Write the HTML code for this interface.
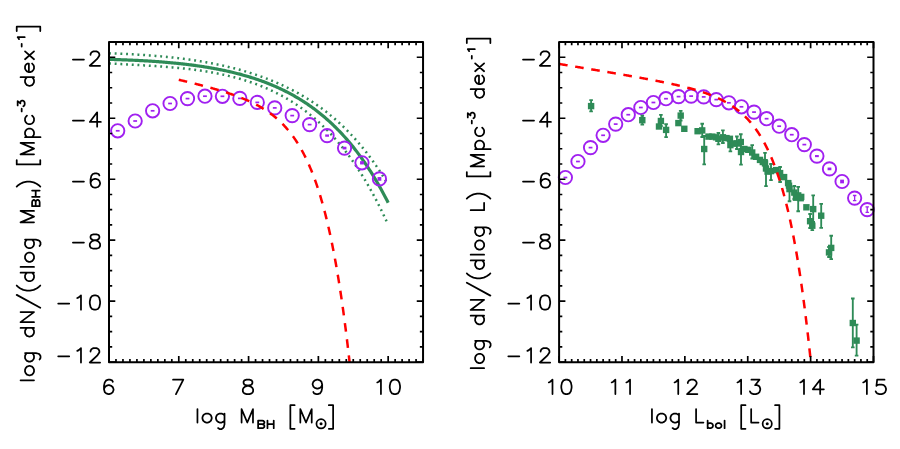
<!DOCTYPE html>
<html><head><meta charset="utf-8"><title>chart</title>
<style>html,body{margin:0;padding:0;background:#fff}svg{display:block}</style></head>
<body>
<svg width="900" height="449" viewBox="0 0 900 449">
<rect width="900" height="449" fill="#fff"/>
<g fill="none" stroke-linecap="butt" stroke-linejoin="round">
<path d="M109.00,53.31 L109.93,53.34 L110.87,53.38 L111.80,53.41 L112.73,53.44 L113.67,53.48 L114.60,53.51 L115.54,53.55 L116.47,53.59 L117.40,53.62 L118.34,53.66 L119.27,53.70 L120.20,53.74 L121.14,53.78 L122.07,53.82 L123.00,53.86 L123.94,53.90 L124.87,53.95 L125.81,53.99 L126.74,54.04 L127.67,54.08 L128.61,54.13 L129.54,54.17 L130.47,54.22 L131.41,54.27 L132.34,54.32 L133.27,54.37 L134.21,54.42 L135.14,54.48 L136.08,54.53 L137.01,54.58 L137.94,54.64 L138.88,54.69 L139.81,54.75 L140.74,54.81 L141.68,54.87 L142.61,54.93 L143.54,54.99 L144.48,55.05 L145.41,55.12 L146.35,55.18 L147.28,55.25 L148.21,55.32 L149.15,55.38 L150.08,55.45 L151.01,55.52 L151.95,55.59 L152.88,55.67 L153.81,55.74 L154.75,55.82 L155.68,55.89 L156.62,55.97 L157.55,56.05 L158.48,56.13 L159.42,56.21 L160.35,56.29 L161.28,56.38 L162.22,56.46 L163.15,56.55 L164.08,56.64 L165.02,56.73 L165.95,56.82 L166.89,56.91 L167.82,57.00 L168.75,57.10 L169.69,57.20 L170.62,57.29 L171.55,57.39 L172.49,57.49 L173.42,57.60 L174.35,57.70 L175.29,57.81 L176.22,57.91 L177.16,58.02 L178.09,58.13 L179.02,58.25 L179.96,58.36 L180.89,58.47 L181.82,58.59 L182.76,58.71 L183.69,58.83 L184.62,58.95 L185.56,59.07 L186.49,59.20 L187.42,59.33 L188.36,59.46 L189.29,59.59 L190.23,59.72 L191.16,59.85 L192.09,59.99 L193.03,60.13 L193.96,60.27 L194.89,60.41 L195.83,60.55 L196.76,60.70 L197.69,60.84 L198.63,60.99 L199.56,61.14 L200.50,61.30 L201.43,61.45 L202.36,61.61 L203.30,61.77 L204.23,61.93 L205.16,62.09 L206.10,62.26 L207.03,62.43 L207.96,62.60 L208.90,62.77 L209.83,62.94 L210.77,63.12 L211.70,63.30 L212.63,63.48 L213.57,63.66 L214.50,63.85 L215.43,64.04 L216.37,64.23 L217.30,64.42 L218.23,64.61 L219.17,64.81 L220.10,65.01 L221.04,65.21 L221.97,65.42 L222.90,65.62 L223.84,65.83 L224.77,66.05 L225.70,66.26 L226.64,66.48 L227.57,66.70 L228.50,66.92 L229.44,67.14 L230.37,67.37 L231.31,67.60 L232.24,67.84 L233.17,68.07 L234.11,68.31 L235.04,68.55 L235.97,68.80 L236.91,69.04 L237.84,69.29 L238.77,69.55 L239.71,69.80 L240.64,70.06 L241.58,70.32 L242.51,70.59 L243.44,70.86 L244.38,71.13 L245.31,71.40 L246.24,71.68 L247.18,71.96 L248.11,72.24 L249.04,72.53 L249.98,72.82 L250.91,73.12 L251.85,73.41 L252.78,73.71 L253.71,74.02 L254.65,74.33 L255.58,74.64 L256.51,74.95 L257.45,75.27 L258.38,75.59 L259.31,75.92 L260.25,76.24 L261.18,76.58 L262.12,76.91 L263.05,77.25 L263.98,77.60 L264.92,77.95 L265.85,78.30 L266.78,78.65 L267.72,79.01 L268.65,79.38 L269.58,79.75 L270.52,80.12 L271.45,80.49 L272.39,80.88 L273.32,81.26 L274.25,81.65 L275.19,82.04 L276.12,82.44 L277.05,82.84 L277.99,83.25 L278.92,83.66 L279.85,84.08 L280.79,84.50 L281.72,84.92 L282.66,85.35 L283.59,85.79 L284.52,86.23 L285.46,86.67 L286.39,87.12 L287.32,87.58 L288.26,88.04 L289.19,88.50 L290.12,88.97 L291.06,89.45 L291.99,89.93 L292.93,90.42 L293.86,90.91 L294.79,91.40 L295.73,91.91 L296.66,92.42 L297.59,92.93 L298.53,93.45 L299.46,93.98 L300.39,94.51 L301.33,95.04 L302.26,95.59 L303.20,96.14 L304.13,96.69 L305.06,97.26 L306.00,97.82 L306.93,98.40 L307.86,98.98 L308.80,99.57 L309.73,100.16 L310.66,100.76 L311.60,101.37 L312.53,101.99 L313.47,102.61 L314.40,103.24 L315.33,103.87 L316.27,104.52 L317.20,105.17 L318.13,105.82 L319.07,106.49 L320.00,107.16 L320.93,107.84 L321.87,108.53 L322.80,109.23 L323.74,109.93 L324.67,110.64 L325.60,111.36 L326.54,112.09 L327.47,112.83 L328.40,113.57 L329.34,114.32 L330.27,115.09 L331.20,115.86 L332.14,116.64 L333.07,117.42 L334.00,118.22 L334.94,119.03 L335.87,119.85 L336.81,120.67 L337.74,121.51 L338.67,122.35 L339.61,123.20 L340.54,124.07 L341.47,124.94 L342.41,125.83 L343.34,126.72 L344.27,127.63 L345.21,128.54 L346.14,129.47 L347.08,130.40 L348.01,131.35 L348.94,132.31 L349.88,133.28 L350.81,134.26 L351.74,135.25 L352.68,136.26 L353.61,137.27 L354.54,138.30 L355.48,139.34 L356.41,140.39 L357.35,141.46 L358.28,142.54 L359.21,143.63 L360.15,144.73 L361.08,145.84 L362.01,146.97 L362.95,148.11 L363.88,149.27 L364.81,150.44 L365.75,151.62 L366.68,152.82 L367.62,154.03 L368.55,155.25 L369.48,156.49 L370.42,157.75 L371.35,159.02 L372.28,160.30 L373.22,161.60 L374.15,162.92 L375.08,164.25 L376.02,165.60 L376.95,166.96 L377.89,168.34 L378.82,169.74 L379.75,171.15 L380.69,172.58 L381.62,174.03 L382.55,175.49 L383.49,176.97 L384.42,178.47 L385.35,179.99 L386.29,181.53 L387.22,183.08 L388.16,184.65" stroke="#2e8b57" stroke-width="2.5" stroke-dasharray="1.9 3.8"/>
<path d="M109.00,63.45 L109.93,63.50 L110.87,63.56 L111.80,63.61 L112.73,63.66 L113.67,63.71 L114.60,63.76 L115.54,63.81 L116.47,63.86 L117.40,63.91 L118.34,63.96 L119.27,64.01 L120.20,64.06 L121.14,64.11 L122.07,64.16 L123.00,64.20 L123.94,64.25 L124.87,64.30 L125.81,64.35 L126.74,64.40 L127.67,64.45 L128.61,64.50 L129.54,64.55 L130.47,64.60 L131.41,64.65 L132.34,64.70 L133.27,64.75 L134.21,64.80 L135.14,64.85 L136.08,64.90 L137.01,64.95 L137.94,65.01 L138.88,65.06 L139.81,65.11 L140.74,65.16 L141.68,65.22 L142.61,65.27 L143.54,65.32 L144.48,65.38 L145.41,65.43 L146.35,65.49 L147.28,65.55 L148.21,65.60 L149.15,65.66 L150.08,65.72 L151.01,65.78 L151.95,65.84 L152.88,65.90 L153.81,65.96 L154.75,66.02 L155.68,66.08 L156.62,66.15 L157.55,66.21 L158.48,66.28 L159.42,66.34 L160.35,66.41 L161.28,66.48 L162.22,66.55 L163.15,66.62 L164.08,66.69 L165.02,66.76 L165.95,66.84 L166.89,66.91 L167.82,66.99 L168.75,67.06 L169.69,67.14 L170.62,67.22 L171.55,67.30 L172.49,67.38 L173.42,67.46 L174.35,67.55 L175.29,67.64 L176.22,67.72 L177.16,67.81 L178.09,67.90 L179.02,67.99 L179.96,68.09 L180.89,68.18 L181.82,68.28 L182.76,68.38 L183.69,68.48 L184.62,68.58 L185.56,68.68 L186.49,68.78 L187.42,68.89 L188.36,69.00 L189.29,69.11 L190.23,69.22 L191.16,69.34 L192.09,69.45 L193.03,69.57 L193.96,69.69 L194.89,69.81 L195.83,69.94 L196.76,70.06 L197.69,70.19 L198.63,70.32 L199.56,70.45 L200.50,70.59 L201.43,70.73 L202.36,70.87 L203.30,71.01 L204.23,71.15 L205.16,71.30 L206.10,71.45 L207.03,71.60 L207.96,71.75 L208.90,71.91 L209.83,72.07 L210.77,72.23 L211.70,72.40 L212.63,72.56 L213.57,72.73 L214.50,72.91 L215.43,73.08 L216.37,73.26 L217.30,73.44 L218.23,73.63 L219.17,73.81 L220.10,74.01 L221.04,74.20 L221.97,74.40 L222.90,74.60 L223.84,74.80 L224.77,75.01 L225.70,75.21 L226.64,75.43 L227.57,75.64 L228.50,75.86 L229.44,76.09 L230.37,76.31 L231.31,76.54 L232.24,76.78 L233.17,77.02 L234.11,77.26 L235.04,77.50 L235.97,77.75 L236.91,78.00 L237.84,78.26 L238.77,78.52 L239.71,78.79 L240.64,79.06 L241.58,79.33 L242.51,79.60 L243.44,79.89 L244.38,80.17 L245.31,80.46 L246.24,80.75 L247.18,81.05 L248.11,81.36 L249.04,81.66 L249.98,81.97 L250.91,82.29 L251.85,82.61 L252.78,82.94 L253.71,83.27 L254.65,83.60 L255.58,83.94 L256.51,84.29 L257.45,84.64 L258.38,85.00 L259.31,85.36 L260.25,85.72 L261.18,86.09 L262.12,86.47 L263.05,86.85 L263.98,87.24 L264.92,87.63 L265.85,88.03 L266.78,88.43 L267.72,88.84 L268.65,89.26 L269.58,89.68 L270.52,90.11 L271.45,90.54 L272.39,90.98 L273.32,91.42 L274.25,91.87 L275.19,92.33 L276.12,92.80 L277.05,93.27 L277.99,93.74 L278.92,94.23 L279.85,94.72 L280.79,95.21 L281.72,95.72 L282.66,96.23 L283.59,96.74 L284.52,97.27 L285.46,97.80 L286.39,98.34 L287.32,98.88 L288.26,99.44 L289.19,100.00 L290.12,100.56 L291.06,101.14 L291.99,101.72 L292.93,102.31 L293.86,102.91 L294.79,103.52 L295.73,104.13 L296.66,104.76 L297.59,105.39 L298.53,106.03 L299.46,106.67 L300.39,107.33 L301.33,107.99 L302.26,108.67 L303.20,109.35 L304.13,110.04 L305.06,110.74 L306.00,111.45 L306.93,112.17 L307.86,112.89 L308.80,113.63 L309.73,114.38 L310.66,115.13 L311.60,115.90 L312.53,116.67 L313.47,117.46 L314.40,118.25 L315.33,119.06 L316.27,119.87 L317.20,120.70 L318.13,121.54 L319.07,122.38 L320.00,123.24 L320.93,124.11 L321.87,124.99 L322.80,125.88 L323.74,126.78 L324.67,127.69 L325.60,128.62 L326.54,129.55 L327.47,130.50 L328.40,131.46 L329.34,132.43 L330.27,133.42 L331.20,134.41 L332.14,135.42 L333.07,136.44 L334.00,137.48 L334.94,138.52 L335.87,139.58 L336.81,140.65 L337.74,141.74 L338.67,142.84 L339.61,143.95 L340.54,145.08 L341.47,146.22 L342.41,147.37 L343.34,148.54 L344.27,149.72 L345.21,150.92 L346.14,152.13 L347.08,153.36 L348.01,154.60 L348.94,155.85 L349.88,157.12 L350.81,158.41 L351.74,159.71 L352.68,161.03 L353.61,162.37 L354.54,163.72 L355.48,165.09 L356.41,166.47 L357.35,167.87 L358.28,169.29 L359.21,170.72 L360.15,172.17 L361.08,173.64 L362.01,175.13 L362.95,176.64 L363.88,178.16 L364.81,179.70 L365.75,181.26 L366.68,182.84 L367.62,184.44 L368.55,186.05 L369.48,187.69 L370.42,189.34 L371.35,191.02 L372.28,192.72 L373.22,194.43 L374.15,196.17 L375.08,197.93 L376.02,199.70 L376.95,201.50 L377.89,203.32 L378.82,205.17 L379.75,207.03 L380.69,208.92 L381.62,210.83 L382.55,212.76 L383.49,214.71 L384.42,216.69 L385.35,218.69 L386.29,220.72 L387.22,222.77 L388.16,224.84" stroke="#2e8b57" stroke-width="2.5" stroke-dasharray="1.9 3.8"/>
<path d="M109.00,59.38 L109.93,59.41 L110.87,59.43 L111.80,59.46 L112.73,59.48 L113.67,59.51 L114.60,59.53 L115.54,59.56 L116.47,59.59 L117.40,59.62 L118.34,59.65 L119.27,59.68 L120.20,59.71 L121.14,59.74 L122.07,59.78 L123.00,59.81 L123.94,59.84 L124.87,59.88 L125.81,59.91 L126.74,59.95 L127.67,59.99 L128.61,60.03 L129.54,60.06 L130.47,60.10 L131.41,60.14 L132.34,60.19 L133.27,60.23 L134.21,60.27 L135.14,60.31 L136.08,60.36 L137.01,60.40 L137.94,60.45 L138.88,60.50 L139.81,60.55 L140.74,60.59 L141.68,60.64 L142.61,60.70 L143.54,60.75 L144.48,60.80 L145.41,60.85 L146.35,60.91 L147.28,60.96 L148.21,61.02 L149.15,61.08 L150.08,61.14 L151.01,61.20 L151.95,61.26 L152.88,61.32 L153.81,61.38 L154.75,61.45 L155.68,61.51 L156.62,61.58 L157.55,61.64 L158.48,61.71 L159.42,61.78 L160.35,61.85 L161.28,61.93 L162.22,62.00 L163.15,62.07 L164.08,62.15 L165.02,62.23 L165.95,62.30 L166.89,62.38 L167.82,62.47 L168.75,62.55 L169.69,62.63 L170.62,62.72 L171.55,62.80 L172.49,62.89 L173.42,62.98 L174.35,63.07 L175.29,63.16 L176.22,63.25 L177.16,63.35 L178.09,63.44 L179.02,63.54 L179.96,63.64 L180.89,63.74 L181.82,63.84 L182.76,63.95 L183.69,64.05 L184.62,64.16 L185.56,64.27 L186.49,64.38 L187.42,64.49 L188.36,64.60 L189.29,64.72 L190.23,64.84 L191.16,64.96 L192.09,65.08 L193.03,65.20 L193.96,65.32 L194.89,65.45 L195.83,65.58 L196.76,65.71 L197.69,65.84 L198.63,65.97 L199.56,66.11 L200.50,66.24 L201.43,66.38 L202.36,66.53 L203.30,66.67 L204.23,66.81 L205.16,66.96 L206.10,67.11 L207.03,67.26 L207.96,67.42 L208.90,67.57 L209.83,67.73 L210.77,67.89 L211.70,68.06 L212.63,68.22 L213.57,68.39 L214.50,68.56 L215.43,68.73 L216.37,68.91 L217.30,69.09 L218.23,69.27 L219.17,69.45 L220.10,69.63 L221.04,69.82 L221.97,70.01 L222.90,70.20 L223.84,70.40 L224.77,70.60 L225.70,70.80 L226.64,71.00 L227.57,71.21 L228.50,71.42 L229.44,71.63 L230.37,71.85 L231.31,72.06 L232.24,72.29 L233.17,72.51 L234.11,72.74 L235.04,72.97 L235.97,73.20 L236.91,73.44 L237.84,73.68 L238.77,73.92 L239.71,74.17 L240.64,74.42 L241.58,74.67 L242.51,74.93 L243.44,75.19 L244.38,75.45 L245.31,75.72 L246.24,75.99 L247.18,76.26 L248.11,76.54 L249.04,76.82 L249.98,77.10 L250.91,77.39 L251.85,77.69 L252.78,77.98 L253.71,78.28 L254.65,78.59 L255.58,78.90 L256.51,79.21 L257.45,79.53 L258.38,79.85 L259.31,80.17 L260.25,80.50 L261.18,80.84 L262.12,81.18 L263.05,81.52 L263.98,81.87 L264.92,82.22 L265.85,82.57 L266.78,82.93 L267.72,83.30 L268.65,83.67 L269.58,84.05 L270.52,84.43 L271.45,84.81 L272.39,85.20 L273.32,85.60 L274.25,86.00 L275.19,86.40 L276.12,86.81 L277.05,87.23 L277.99,87.65 L278.92,88.08 L279.85,88.51 L280.79,88.95 L281.72,89.39 L282.66,89.84 L283.59,90.30 L284.52,90.76 L285.46,91.23 L286.39,91.70 L287.32,92.18 L288.26,92.67 L289.19,93.16 L290.12,93.66 L291.06,94.16 L291.99,94.67 L292.93,95.19 L293.86,95.71 L294.79,96.24 L295.73,96.78 L296.66,97.33 L297.59,97.88 L298.53,98.44 L299.46,99.00 L300.39,99.57 L301.33,100.15 L302.26,100.74 L303.20,101.34 L304.13,101.94 L305.06,102.55 L306.00,103.17 L306.93,103.79 L307.86,104.43 L308.80,105.07 L309.73,105.72 L310.66,106.38 L311.60,107.04 L312.53,107.72 L313.47,108.40 L314.40,109.09 L315.33,109.79 L316.27,110.50 L317.20,111.22 L318.13,111.95 L319.07,112.69 L320.00,113.43 L320.93,114.19 L321.87,114.95 L322.80,115.73 L323.74,116.51 L324.67,117.31 L325.60,118.11 L326.54,118.93 L327.47,119.75 L328.40,120.59 L329.34,121.43 L330.27,122.29 L331.20,123.15 L332.14,124.03 L333.07,124.92 L334.00,125.82 L334.94,126.73 L335.87,127.65 L336.81,128.59 L337.74,129.53 L338.67,130.49 L339.61,131.46 L340.54,132.44 L341.47,133.44 L342.41,134.44 L343.34,135.46 L344.27,136.50 L345.21,137.54 L346.14,138.60 L347.08,139.67 L348.01,140.75 L348.94,141.85 L349.88,142.96 L350.81,144.09 L351.74,145.23 L352.68,146.38 L353.61,147.55 L354.54,148.73 L355.48,149.93 L356.41,151.14 L357.35,152.37 L358.28,153.61 L359.21,154.87 L360.15,156.14 L361.08,157.43 L362.01,158.74 L362.95,160.06 L363.88,161.40 L364.81,162.75 L365.75,164.12 L366.68,165.51 L367.62,166.92 L368.55,168.34 L369.48,169.78 L370.42,171.24 L371.35,172.72 L372.28,174.21 L373.22,175.72 L374.15,177.26 L375.08,178.81 L376.02,180.38 L376.95,181.97 L377.89,183.58 L378.82,185.21 L379.75,186.86 L380.69,188.53 L381.62,190.22 L382.55,191.93 L383.49,193.66 L384.42,195.41 L385.35,197.19 L386.29,198.99 L387.22,200.81 L388.16,202.65" stroke="#2e8b57" stroke-width="3.2"/>
</g>
<g stroke="#a020f0" fill="none" stroke-width="1.9">
<circle cx="117.72" cy="130.8" r="6.65"/>
<rect x="115.82" y="129.95" width="3.8" height="1.70" fill="#a020f0" stroke="none"/>
<circle cx="135.17" cy="121.0" r="6.65"/>
<rect x="133.27" y="120.15" width="3.8" height="1.70" fill="#a020f0" stroke="none"/>
<circle cx="152.62" cy="110.8" r="6.65"/>
<rect x="150.72" y="109.95" width="3.8" height="1.70" fill="#a020f0" stroke="none"/>
<circle cx="170.07" cy="103.5" r="6.65"/>
<rect x="168.17" y="102.65" width="3.8" height="1.70" fill="#a020f0" stroke="none"/>
<circle cx="187.51" cy="98.6" r="6.65"/>
<rect x="185.61" y="97.75" width="3.8" height="1.70" fill="#a020f0" stroke="none"/>
<circle cx="204.96" cy="96.2" r="6.65"/>
<rect x="203.06" y="95.35" width="3.8" height="1.70" fill="#a020f0" stroke="none"/>
<circle cx="222.41" cy="96.3" r="6.65"/>
<rect x="220.51" y="95.45" width="3.8" height="1.70" fill="#a020f0" stroke="none"/>
<circle cx="239.85" cy="98.4" r="6.65"/>
<rect x="237.95" y="97.55" width="3.8" height="1.70" fill="#a020f0" stroke="none"/>
<circle cx="257.30" cy="102.4" r="6.65"/>
<rect x="255.40" y="101.55" width="3.8" height="1.70" fill="#a020f0" stroke="none"/>
<circle cx="274.75" cy="107.9" r="6.65"/>
<rect x="272.85" y="107.05" width="3.8" height="1.70" fill="#a020f0" stroke="none"/>
<circle cx="292.20" cy="115.6" r="6.65"/>
<rect x="290.30" y="114.75" width="3.8" height="1.70" fill="#a020f0" stroke="none"/>
<circle cx="309.64" cy="124.6" r="6.65"/>
<rect x="307.74" y="123.75" width="3.8" height="1.70" fill="#a020f0" stroke="none"/>
<circle cx="327.09" cy="135.6" r="6.65"/>
<rect x="325.19" y="134.45" width="3.8" height="2.30" fill="#a020f0" stroke="none"/>
<circle cx="344.54" cy="148.1" r="6.65"/>
<rect x="342.64" y="146.75" width="3.8" height="2.70" fill="#a020f0" stroke="none"/>
<circle cx="361.98" cy="162.8" r="6.65"/>
<rect x="360.08" y="161.15" width="3.8" height="3.30" fill="#a020f0" stroke="none"/>
<circle cx="379.43" cy="178.9" r="6.65"/>
<rect x="377.53" y="177.05" width="3.8" height="3.70" fill="#a020f0" stroke="none"/>
<circle cx="565.39" cy="177.5" r="6.65"/>
<rect x="563.49" y="176.65" width="3.8" height="1.70" fill="#a020f0" stroke="none"/>
<circle cx="577.96" cy="161.5" r="6.65"/>
<rect x="576.06" y="160.65" width="3.8" height="1.70" fill="#a020f0" stroke="none"/>
<circle cx="590.54" cy="147.6" r="6.65"/>
<rect x="588.64" y="146.75" width="3.8" height="1.70" fill="#a020f0" stroke="none"/>
<circle cx="603.12" cy="135.3" r="6.65"/>
<rect x="601.22" y="134.45" width="3.8" height="1.70" fill="#a020f0" stroke="none"/>
<circle cx="615.69" cy="124.1" r="6.65"/>
<rect x="613.79" y="123.25" width="3.8" height="1.70" fill="#a020f0" stroke="none"/>
<circle cx="628.27" cy="114.7" r="6.65"/>
<rect x="626.37" y="113.85" width="3.8" height="1.70" fill="#a020f0" stroke="none"/>
<circle cx="640.84" cy="107.5" r="6.65"/>
<rect x="638.94" y="106.65" width="3.8" height="1.70" fill="#a020f0" stroke="none"/>
<circle cx="653.42" cy="102.5" r="6.65"/>
<rect x="651.52" y="101.65" width="3.8" height="1.70" fill="#a020f0" stroke="none"/>
<circle cx="666.00" cy="98.7" r="6.65"/>
<rect x="664.10" y="97.85" width="3.8" height="1.70" fill="#a020f0" stroke="none"/>
<circle cx="678.57" cy="96.6" r="6.65"/>
<rect x="676.67" y="95.75" width="3.8" height="1.70" fill="#a020f0" stroke="none"/>
<circle cx="691.15" cy="96.1" r="6.65"/>
<rect x="689.25" y="95.25" width="3.8" height="1.70" fill="#a020f0" stroke="none"/>
<circle cx="703.72" cy="96.9" r="6.65"/>
<rect x="701.82" y="96.05" width="3.8" height="1.70" fill="#a020f0" stroke="none"/>
<circle cx="716.30" cy="99.6" r="6.65"/>
<rect x="714.40" y="98.75" width="3.8" height="1.70" fill="#a020f0" stroke="none"/>
<circle cx="728.88" cy="102.8" r="6.65"/>
<rect x="726.98" y="101.95" width="3.8" height="1.70" fill="#a020f0" stroke="none"/>
<circle cx="741.45" cy="106.8" r="6.65"/>
<rect x="739.55" y="105.95" width="3.8" height="1.70" fill="#a020f0" stroke="none"/>
<circle cx="754.03" cy="112.1" r="6.65"/>
<rect x="752.13" y="111.25" width="3.8" height="1.70" fill="#a020f0" stroke="none"/>
<circle cx="766.60" cy="118.7" r="6.65"/>
<rect x="764.70" y="117.85" width="3.8" height="1.70" fill="#a020f0" stroke="none"/>
<circle cx="779.18" cy="126.2" r="6.65"/>
<rect x="777.28" y="125.35" width="3.8" height="1.70" fill="#a020f0" stroke="none"/>
<circle cx="791.76" cy="134.7" r="6.65"/>
<rect x="789.86" y="133.85" width="3.8" height="1.70" fill="#a020f0" stroke="none"/>
<circle cx="804.33" cy="144.6" r="6.65"/>
<rect x="802.43" y="143.75" width="3.8" height="1.70" fill="#a020f0" stroke="none"/>
<circle cx="816.91" cy="156.1" r="6.65"/>
<rect x="815.01" y="155.05" width="3.8" height="2.10" fill="#a020f0" stroke="none"/>
<circle cx="829.48" cy="168.9" r="6.65"/>
<rect x="827.58" y="167.55" width="3.8" height="2.70" fill="#a020f0" stroke="none"/>
<circle cx="842.06" cy="181.5" r="6.65"/>
<rect x="840.16" y="179.65" width="3.8" height="3.70" fill="#a020f0" stroke="none"/>
<circle cx="854.64" cy="198.1" r="6.65"/>
<path d="M852.94,195.5h3.4M852.94,200.7h3.4M854.64,195.5v5.2" stroke-width="1.3"/>
<circle cx="867.21" cy="209.6" r="6.65"/>
<path d="M865.51,206.79999999999998h3.4M865.51,212.4h3.4M867.21,206.79999999999998v5.6" stroke-width="1.3"/>
</g>
<g stroke="#2e8b57" fill="#2e8b57" stroke-width="1.85">
<path d="M591.10,100.1V111.3M589.30,100.1h3.6M589.30,111.3h3.6M642.30,115.7V124.6M640.50,115.7h3.6M640.50,124.6h3.6M660.90,114.8V126M659.10,114.8h3.6M659.10,126h3.6M666.10,124.2V137.1M664.30,124.2h3.6M664.30,137.1h3.6M680.70,110.9V120.5M678.90,110.9h3.6M678.90,120.5h3.6M702.20,123.7V137M700.40,123.7h3.6M700.40,137h3.6M704.20,136V164.4M702.40,136h3.6M702.40,164.4h3.6M718.40,133V144.3M716.60,133h3.6M716.60,144.3h3.6M722.90,130.3V143M721.10,130.3h3.6M721.10,143h3.6M730.40,139V151.3M728.60,139h3.6M728.60,151.3h3.6M736.90,136.5V149M735.10,136.5h3.6M735.10,149h3.6M740.80,134.2V149M739.00,134.2h3.6M739.00,149h3.6M741.00,140V164.6M739.20,140h3.6M739.20,164.6h3.6M752.20,145.1V158.5M750.40,145.1h3.6M750.40,158.5h3.6M765.00,152.9V170M763.20,152.9h3.6M763.20,170h3.6M766.00,160V186.1M764.20,160h3.6M764.20,186.1h3.6M771.00,164V180.1M769.20,164h3.6M769.20,180.1h3.6M780.10,167V182M778.30,167h3.6M778.30,182h3.6M789.50,181V201.2M787.70,181h3.6M787.70,201.2h3.6M794.30,186V199M792.50,186h3.6M792.50,199h3.6M798.20,186.9V211.2M796.40,186.9h3.6M796.40,211.2h3.6M813.20,195.4V222M811.40,195.4h3.6M811.40,222h3.6M810.10,214V228M808.30,214h3.6M808.30,228h3.6M812.30,219V230.1M810.50,219h3.6M810.50,230.1h3.6M821.20,203.8V227.9M819.40,203.8h3.6M819.40,227.9h3.6M831.20,235.7V259.1M829.40,235.7h3.6M829.40,259.1h3.6M829.00,247V257M827.20,247h3.6M827.20,257h3.6M852.80,298.5V347.3M851.00,298.5h3.6M851.00,347.3h3.6M856.60,324.6V355.6M854.80,324.6h3.6M854.80,355.6h3.6" fill="none"/>
<rect x="587.90" y="102.90" width="6.4" height="6.4" stroke="none"/>
<rect x="639.10" y="117.00" width="6.4" height="6.4" stroke="none"/>
<rect x="657.70" y="117.80" width="6.4" height="6.4" stroke="none"/>
<rect x="655.80" y="123.30" width="6.4" height="6.4" stroke="none"/>
<rect x="662.90" y="126.70" width="6.4" height="6.4" stroke="none"/>
<rect x="677.50" y="112.40" width="6.4" height="6.4" stroke="none"/>
<rect x="675.20" y="119.90" width="6.4" height="6.4" stroke="none"/>
<rect x="681.10" y="125.60" width="6.4" height="6.4" stroke="none"/>
<rect x="694.40" y="128.00" width="6.4" height="6.4" stroke="none"/>
<rect x="699.00" y="127.20" width="6.4" height="6.4" stroke="none"/>
<rect x="701.00" y="145.80" width="6.4" height="6.4" stroke="none"/>
<rect x="705.30" y="133.40" width="6.4" height="6.4" stroke="none"/>
<rect x="709.20" y="133.40" width="6.4" height="6.4" stroke="none"/>
<rect x="712.80" y="134.10" width="6.4" height="6.4" stroke="none"/>
<rect x="715.20" y="135.60" width="6.4" height="6.4" stroke="none"/>
<rect x="719.70" y="134.10" width="6.4" height="6.4" stroke="none"/>
<rect x="723.30" y="134.90" width="6.4" height="6.4" stroke="none"/>
<rect x="726.70" y="135.60" width="6.4" height="6.4" stroke="none"/>
<rect x="727.20" y="141.90" width="6.4" height="6.4" stroke="none"/>
<rect x="730.30" y="140.30" width="6.4" height="6.4" stroke="none"/>
<rect x="733.70" y="140.30" width="6.4" height="6.4" stroke="none"/>
<rect x="737.60" y="138.80" width="6.4" height="6.4" stroke="none"/>
<rect x="737.80" y="148.80" width="6.4" height="6.4" stroke="none"/>
<rect x="741.20" y="145.80" width="6.4" height="6.4" stroke="none"/>
<rect x="745.10" y="146.60" width="6.4" height="6.4" stroke="none"/>
<rect x="749.00" y="149.30" width="6.4" height="6.4" stroke="none"/>
<rect x="752.90" y="153.60" width="6.4" height="6.4" stroke="none"/>
<rect x="756.80" y="156.70" width="6.4" height="6.4" stroke="none"/>
<rect x="761.80" y="160.20" width="6.4" height="6.4" stroke="none"/>
<rect x="759.60" y="158.80" width="6.4" height="6.4" stroke="none"/>
<rect x="764.40" y="168.40" width="6.4" height="6.4" stroke="none"/>
<rect x="762.80" y="165.30" width="6.4" height="6.4" stroke="none"/>
<rect x="767.80" y="167.90" width="6.4" height="6.4" stroke="none"/>
<rect x="772.90" y="166.90" width="6.4" height="6.4" stroke="none"/>
<rect x="776.90" y="169.90" width="6.4" height="6.4" stroke="none"/>
<rect x="780.90" y="173.90" width="6.4" height="6.4" stroke="none"/>
<rect x="784.90" y="179.90" width="6.4" height="6.4" stroke="none"/>
<rect x="786.30" y="185.90" width="6.4" height="6.4" stroke="none"/>
<rect x="791.10" y="189.40" width="6.4" height="6.4" stroke="none"/>
<rect x="795.00" y="192.20" width="6.4" height="6.4" stroke="none"/>
<rect x="798.00" y="193.70" width="6.4" height="6.4" stroke="none"/>
<rect x="792.80" y="194.50" width="6.4" height="6.4" stroke="none"/>
<rect x="797.50" y="195.00" width="6.4" height="6.4" stroke="none"/>
<rect x="785.80" y="182.40" width="6.4" height="6.4" stroke="none"/>
<rect x="803.20" y="204.10" width="6.4" height="6.4" stroke="none"/>
<rect x="810.00" y="205.90" width="6.4" height="6.4" stroke="none"/>
<rect x="806.90" y="218.00" width="6.4" height="6.4" stroke="none"/>
<rect x="809.10" y="222.50" width="6.4" height="6.4" stroke="none"/>
<rect x="818.00" y="212.50" width="6.4" height="6.4" stroke="none"/>
<rect x="828.00" y="244.70" width="6.4" height="6.4" stroke="none"/>
<rect x="825.80" y="249.20" width="6.4" height="6.4" stroke="none"/>
<rect x="849.60" y="319.80" width="6.4" height="6.4" stroke="none"/>
<rect x="853.40" y="337.40" width="6.4" height="6.4" stroke="none"/>
</g>
<g fill="none">
<path d="M178.79,79.78 L179.40,79.92 L180.00,80.06 L180.61,80.21 L181.22,80.35 L181.82,80.49 L182.43,80.64 L183.04,80.78 L183.64,80.93 L184.25,81.07 L184.86,81.22 L185.46,81.36 L186.07,81.51 L186.68,81.66 L187.28,81.80 L187.89,81.95 L188.50,82.10 L189.11,82.25 L189.71,82.40 L190.32,82.54 L190.93,82.69 L191.53,82.84 L192.14,82.99 L192.75,83.14 L193.35,83.29 L193.96,83.44 L194.57,83.60 L195.17,83.75 L195.78,83.90 L196.39,84.05 L196.99,84.21 L197.60,84.36 L198.21,84.52 L198.82,84.67 L199.42,84.83 L200.03,84.98 L200.64,85.14 L201.24,85.30 L201.85,85.45 L202.46,85.61 L203.06,85.77 L203.67,85.93 L204.28,86.09 L204.88,86.25 L205.49,86.41 L206.10,86.58 L206.70,86.74 L207.31,86.90 L207.92,87.07 L208.53,87.23 L209.13,87.40 L209.74,87.56 L210.35,87.73 L210.95,87.90 L211.56,88.07 L212.17,88.24 L212.77,88.41 L213.38,88.58 L213.99,88.75 L214.59,88.93 L215.20,89.10 L215.81,89.27 L216.41,89.45 L217.02,89.63 L217.63,89.81 L218.23,89.98 L218.84,90.16 L219.45,90.35 L220.06,90.53 L220.66,90.71 L221.27,90.90 L221.88,91.08 L222.48,91.27 L223.09,91.46 L223.70,91.65 L224.30,91.84 L224.91,92.03 L225.52,92.22 L226.12,92.42 L226.73,92.61 L227.34,92.81 L227.94,93.01 L228.55,93.21 L229.16,93.41 L229.77,93.62 L230.37,93.82 L230.98,94.03 L231.59,94.24 L232.19,94.45 L232.80,94.66 L233.41,94.87 L234.01,95.09 L234.62,95.31 L235.23,95.52 L235.83,95.75 L236.44,95.97 L237.05,96.19 L237.65,96.42 L238.26,96.65 L238.87,96.88 L239.47,97.12 L240.08,97.35 L240.69,97.59 L241.30,97.83 L241.90,98.07 L242.51,98.32 L243.12,98.57 L243.72,98.82 L244.33,99.07 L244.94,99.33 L245.54,99.59 L246.15,99.85 L246.76,100.11 L247.36,100.38 L247.97,100.65 L248.58,100.92 L249.18,101.20 L249.79,101.48 L250.40,101.76 L251.01,102.05 L251.61,102.34 L252.22,102.63 L252.83,102.93 L253.43,103.23 L254.04,103.53 L254.65,103.84 L255.25,104.15 L255.86,104.47 L256.47,104.79 L257.07,105.11 L257.68,105.44 L258.29,105.77 L258.89,106.11 L259.50,106.45 L260.11,106.80 L260.71,107.15 L261.32,107.50 L261.93,107.86 L262.54,108.23 L263.14,108.60 L263.75,108.97 L264.36,109.36 L264.96,109.74 L265.57,110.13 L266.18,110.53 L266.78,110.94 L267.39,111.35 L268.00,111.76 L268.60,112.19 L269.21,112.61 L269.82,113.05 L270.42,113.49 L271.03,113.94 L271.64,114.40 L272.25,114.86 L272.85,115.33 L273.46,115.81 L274.07,116.29 L274.67,116.79 L275.28,117.29 L275.89,117.80 L276.49,118.31 L277.10,118.84 L277.71,119.37 L278.31,119.92 L278.92,120.47 L279.53,121.03 L280.13,121.60 L280.74,122.18 L281.35,122.77 L281.96,123.38 L282.56,123.99 L283.17,124.61 L283.78,125.24 L284.38,125.88 L284.99,126.54 L285.60,127.21 L286.20,127.88 L286.81,128.57 L287.42,129.28 L288.02,129.99 L288.63,130.72 L289.24,131.46 L289.84,132.21 L290.45,132.98 L291.06,133.76 L291.66,134.56 L292.27,135.37 L292.88,136.20 L293.49,137.04 L294.09,137.89 L294.70,138.77 L295.31,139.66 L295.91,140.56 L296.52,141.48 L297.13,142.42 L297.73,143.38 L298.34,144.36 L298.95,145.35 L299.55,146.36 L300.16,147.40 L300.77,148.45 L301.37,149.52 L301.98,150.62 L302.59,151.73 L303.20,152.87 L303.80,154.02 L304.41,155.21 L305.02,156.41 L305.62,157.64 L306.23,158.89 L306.84,160.16 L307.44,161.47 L308.05,162.79 L308.66,164.15 L309.26,165.53 L309.87,166.93 L310.48,168.37 L311.08,169.83 L311.69,171.33 L312.30,172.85 L312.90,174.40 L313.51,175.99 L314.12,177.61 L314.73,179.26 L315.33,180.94 L315.94,182.66 L316.55,184.41 L317.15,186.20 L317.76,188.02 L318.37,189.88 L318.97,191.78 L319.58,193.72 L320.19,195.70 L320.79,197.72 L321.40,199.77 L322.01,201.88 L322.61,204.02 L323.22,206.21 L323.83,208.45 L324.44,210.73 L325.04,213.06 L325.65,215.43 L326.26,217.86 L326.86,220.34 L327.47,222.86 L328.08,225.44 L328.68,228.08 L329.29,230.77 L329.90,233.51 L330.50,236.32 L331.11,239.18 L331.72,242.10 L332.32,245.08 L332.93,248.13 L333.54,251.24 L334.15,254.41 L334.75,257.65 L335.36,260.96 L335.97,264.34 L336.57,267.80 L337.18,271.32 L337.79,274.92 L338.39,278.59 L339.00,282.35 L339.61,286.18 L340.21,290.09 L340.82,294.09 L341.43,298.17 L342.03,302.34 L342.64,306.60 L343.25,310.94 L343.85,315.38 L344.46,319.92 L345.07,324.55 L345.68,329.28 L346.28,334.11 L346.89,339.05 L347.50,344.09 L348.10,349.24 L348.71,354.49 L349.32,359.86 L349.57,362.20" stroke="#ff0000" stroke-width="2.5" stroke-dasharray="8.6 7.7"/>
<path d="M559.10,63.94 L559.98,64.09 L560.87,64.24 L561.75,64.39 L562.63,64.53 L563.52,64.68 L564.40,64.83 L565.28,64.97 L566.17,65.12 L567.05,65.27 L567.93,65.41 L568.82,65.56 L569.70,65.71 L570.58,65.86 L571.47,66.00 L572.35,66.15 L573.23,66.30 L574.12,66.44 L575.00,66.59 L575.88,66.74 L576.77,66.89 L577.65,67.03 L578.53,67.18 L579.42,67.33 L580.30,67.48 L581.18,67.62 L582.06,67.77 L582.95,67.92 L583.83,68.07 L584.71,68.22 L585.60,68.36 L586.48,68.51 L587.36,68.66 L588.25,68.81 L589.13,68.96 L590.01,69.10 L590.90,69.25 L591.78,69.40 L592.66,69.55 L593.55,69.70 L594.43,69.85 L595.31,70.00 L596.20,70.14 L597.08,70.29 L597.96,70.44 L598.85,70.59 L599.73,70.74 L600.61,70.89 L601.50,71.04 L602.38,71.19 L603.26,71.34 L604.15,71.49 L605.03,71.64 L605.91,71.79 L606.80,71.94 L607.68,72.09 L608.56,72.24 L609.45,72.39 L610.33,72.54 L611.21,72.69 L612.10,72.84 L612.98,72.99 L613.86,73.14 L614.75,73.30 L615.63,73.45 L616.51,73.60 L617.40,73.75 L618.28,73.90 L619.16,74.06 L620.05,74.21 L620.93,74.36 L621.81,74.51 L622.70,74.67 L623.58,74.82 L624.46,74.98 L625.34,75.13 L626.23,75.28 L627.11,75.44 L627.99,75.59 L628.88,75.75 L629.76,75.90 L630.64,76.06 L631.53,76.22 L632.41,76.37 L633.29,76.53 L634.18,76.69 L635.06,76.84 L635.94,77.00 L636.83,77.16 L637.71,77.32 L638.59,77.48 L639.48,77.64 L640.36,77.80 L641.24,77.96 L642.13,78.12 L643.01,78.28 L643.89,78.44 L644.78,78.61 L645.66,78.77 L646.54,78.93 L647.43,79.10 L648.31,79.26 L649.19,79.43 L650.08,79.60 L650.96,79.76 L651.84,79.93 L652.73,80.10 L653.61,80.27 L654.49,80.44 L655.38,80.61 L656.26,80.78 L657.14,80.95 L658.03,81.13 L658.91,81.30 L659.79,81.48 L660.68,81.65 L661.56,81.83 L662.44,82.01 L663.33,82.19 L664.21,82.37 L665.09,82.55 L665.97,82.73 L666.86,82.92 L667.74,83.10 L668.62,83.29 L669.51,83.48 L670.39,83.67 L671.27,83.86 L672.16,84.05 L673.04,84.24 L673.92,84.44 L674.81,84.64 L675.69,84.83 L676.57,85.04 L677.46,85.24 L678.34,85.44 L679.22,85.65 L680.11,85.86 L680.99,86.07 L681.87,86.28 L682.76,86.50 L683.64,86.71 L684.52,86.93 L685.41,87.15 L686.29,87.38 L687.17,87.61 L688.06,87.84 L688.94,88.07 L689.82,88.31 L690.71,88.54 L691.59,88.79 L692.47,89.03 L693.36,89.28 L694.24,89.53 L695.12,89.79 L696.01,90.05 L696.89,90.31 L697.77,90.58 L698.66,90.85 L699.54,91.12 L700.42,91.40 L701.31,91.69 L702.19,91.97 L703.07,92.27 L703.96,92.57 L704.84,92.87 L705.72,93.18 L706.61,93.49 L707.49,93.81 L708.37,94.14 L709.25,94.47 L710.14,94.81 L711.02,95.15 L711.90,95.50 L712.79,95.86 L713.67,96.23 L714.55,96.60 L715.44,96.98 L716.32,97.37 L717.20,97.77 L718.09,98.17 L718.97,98.58 L719.85,99.01 L720.74,99.44 L721.62,99.88 L722.50,100.33 L723.39,100.79 L724.27,101.26 L725.15,101.75 L726.04,102.24 L726.92,102.75 L727.80,103.27 L728.69,103.80 L729.57,104.34 L730.45,104.90 L731.34,105.47 L732.22,106.05 L733.10,106.65 L733.99,107.27 L734.87,107.90 L735.75,108.55 L736.64,109.21 L737.52,109.89 L738.40,110.59 L739.29,111.31 L740.17,112.05 L741.05,112.81 L741.94,113.59 L742.82,114.39 L743.70,115.21 L744.59,116.05 L745.47,116.92 L746.35,117.81 L747.24,118.73 L748.12,119.67 L749.00,120.64 L749.89,121.64 L750.77,122.66 L751.65,123.72 L752.53,124.81 L753.42,125.92 L754.30,127.07 L755.18,128.26 L756.07,129.48 L756.95,130.73 L757.83,132.03 L758.72,133.36 L759.60,134.73 L760.48,136.14 L761.37,137.60 L762.25,139.10 L763.13,140.64 L764.02,142.23 L764.90,143.87 L765.78,145.56 L766.67,147.31 L767.55,149.10 L768.43,150.95 L769.32,152.86 L770.20,154.83 L771.08,156.86 L771.97,158.96 L772.85,161.12 L773.73,163.34 L774.62,165.64 L775.50,168.01 L776.38,170.45 L777.27,172.97 L778.15,175.57 L779.03,178.26 L779.92,181.03 L780.80,183.88 L781.68,186.83 L782.57,189.88 L783.45,193.02 L784.33,196.26 L785.22,199.60 L786.10,203.06 L786.98,206.62 L787.87,210.30 L788.75,214.10 L789.63,218.02 L790.52,222.07 L791.40,226.25 L792.28,230.56 L793.17,235.02 L794.05,239.62 L794.93,244.37 L795.81,249.27 L796.70,254.34 L797.58,259.57 L798.46,264.97 L799.35,270.55 L800.23,276.31 L801.11,282.26 L802.00,288.41 L802.88,294.75 L803.76,301.31 L804.65,308.08 L805.53,315.08 L806.41,322.30 L807.30,329.77 L808.18,337.48 L809.06,345.44 L809.95,353.67 L810.83,362.17 L810.83,362.20" stroke="#ff0000" stroke-width="2.5" stroke-dasharray="8.6 7.7"/>
</g>
<rect x="109.0" y="42.0" width="314.05" height="320.20" fill="none" stroke="#000" stroke-width="2" stroke-linejoin="round"/>
<path d="M109.00,362.2v-6.3M109.00,42.0v6.3M115.98,362.2v-3.2M115.98,42.0v3.2M122.96,362.2v-3.2M122.96,42.0v3.2M129.94,362.2v-3.2M129.94,42.0v3.2M136.92,362.2v-3.2M136.92,42.0v3.2M143.89,362.2v-3.2M143.89,42.0v3.2M150.87,362.2v-3.2M150.87,42.0v3.2M157.85,362.2v-3.2M157.85,42.0v3.2M164.83,362.2v-3.2M164.83,42.0v3.2M171.81,362.2v-3.2M171.81,42.0v3.2M178.79,362.2v-6.3M178.79,42.0v6.3M185.77,362.2v-3.2M185.77,42.0v3.2M192.75,362.2v-3.2M192.75,42.0v3.2M199.73,362.2v-3.2M199.73,42.0v3.2M206.70,362.2v-3.2M206.70,42.0v3.2M213.68,362.2v-3.2M213.68,42.0v3.2M220.66,362.2v-3.2M220.66,42.0v3.2M227.64,362.2v-3.2M227.64,42.0v3.2M234.62,362.2v-3.2M234.62,42.0v3.2M241.60,362.2v-3.2M241.60,42.0v3.2M248.58,362.2v-6.3M248.58,42.0v6.3M255.56,362.2v-3.2M255.56,42.0v3.2M262.54,362.2v-3.2M262.54,42.0v3.2M269.51,362.2v-3.2M269.51,42.0v3.2M276.49,362.2v-3.2M276.49,42.0v3.2M283.47,362.2v-3.2M283.47,42.0v3.2M290.45,362.2v-3.2M290.45,42.0v3.2M297.43,362.2v-3.2M297.43,42.0v3.2M304.41,362.2v-3.2M304.41,42.0v3.2M311.39,362.2v-3.2M311.39,42.0v3.2M318.37,362.2v-6.3M318.37,42.0v6.3M325.35,362.2v-3.2M325.35,42.0v3.2M332.32,362.2v-3.2M332.32,42.0v3.2M339.30,362.2v-3.2M339.30,42.0v3.2M346.28,362.2v-3.2M346.28,42.0v3.2M353.26,362.2v-3.2M353.26,42.0v3.2M360.24,362.2v-3.2M360.24,42.0v3.2M367.22,362.2v-3.2M367.22,42.0v3.2M374.20,362.2v-3.2M374.20,42.0v3.2M381.18,362.2v-3.2M381.18,42.0v3.2M388.16,362.2v-6.3M388.16,42.0v6.3M395.13,362.2v-3.2M395.13,42.0v3.2M402.11,362.2v-3.2M402.11,42.0v3.2M409.09,362.2v-3.2M409.09,42.0v3.2M416.07,362.2v-3.2M416.07,42.0v3.2M423.05,362.2v-3.2M423.05,42.0v3.2M109.0,362.20h6.3M423.05,362.20h-6.3M109.0,346.95h3.2M423.05,346.95h-3.2M109.0,331.70h3.2M423.05,331.70h-3.2M109.0,316.46h3.2M423.05,316.46h-3.2M109.0,301.21h6.3M423.05,301.21h-6.3M109.0,285.96h3.2M423.05,285.96h-3.2M109.0,270.71h3.2M423.05,270.71h-3.2M109.0,255.47h3.2M423.05,255.47h-3.2M109.0,240.22h6.3M423.05,240.22h-6.3M109.0,224.97h3.2M423.05,224.97h-3.2M109.0,209.72h3.2M423.05,209.72h-3.2M109.0,194.48h3.2M423.05,194.48h-3.2M109.0,179.23h6.3M423.05,179.23h-6.3M109.0,163.98h3.2M423.05,163.98h-3.2M109.0,148.73h3.2M423.05,148.73h-3.2M109.0,133.49h3.2M423.05,133.49h-3.2M109.0,118.24h6.3M423.05,118.24h-6.3M109.0,102.99h3.2M423.05,102.99h-3.2M109.0,87.74h3.2M423.05,87.74h-3.2M109.0,72.50h3.2M423.05,72.50h-3.2M109.0,57.25h6.3M423.05,57.25h-6.3M109.0,42.00h3.2M423.05,42.00h-3.2" stroke="#000" stroke-width="1.7" fill="none"/>
<rect x="559.1" y="42.0" width="314.40" height="320.20" fill="none" stroke="#000" stroke-width="2" stroke-linejoin="round"/>
<path d="M559.10,362.2v-6.3M559.10,42.0v6.3M565.39,362.2v-3.2M565.39,42.0v3.2M571.68,362.2v-3.2M571.68,42.0v3.2M577.96,362.2v-3.2M577.96,42.0v3.2M584.25,362.2v-3.2M584.25,42.0v3.2M590.54,362.2v-3.2M590.54,42.0v3.2M596.83,362.2v-3.2M596.83,42.0v3.2M603.12,362.2v-3.2M603.12,42.0v3.2M609.40,362.2v-3.2M609.40,42.0v3.2M615.69,362.2v-3.2M615.69,42.0v3.2M621.98,362.2v-6.3M621.98,42.0v6.3M628.27,362.2v-3.2M628.27,42.0v3.2M634.56,362.2v-3.2M634.56,42.0v3.2M640.84,362.2v-3.2M640.84,42.0v3.2M647.13,362.2v-3.2M647.13,42.0v3.2M653.42,362.2v-3.2M653.42,42.0v3.2M659.71,362.2v-3.2M659.71,42.0v3.2M666.00,362.2v-3.2M666.00,42.0v3.2M672.28,362.2v-3.2M672.28,42.0v3.2M678.57,362.2v-3.2M678.57,42.0v3.2M684.86,362.2v-6.3M684.86,42.0v6.3M691.15,362.2v-3.2M691.15,42.0v3.2M697.44,362.2v-3.2M697.44,42.0v3.2M703.72,362.2v-3.2M703.72,42.0v3.2M710.01,362.2v-3.2M710.01,42.0v3.2M716.30,362.2v-3.2M716.30,42.0v3.2M722.59,362.2v-3.2M722.59,42.0v3.2M728.88,362.2v-3.2M728.88,42.0v3.2M735.16,362.2v-3.2M735.16,42.0v3.2M741.45,362.2v-3.2M741.45,42.0v3.2M747.74,362.2v-6.3M747.74,42.0v6.3M754.03,362.2v-3.2M754.03,42.0v3.2M760.32,362.2v-3.2M760.32,42.0v3.2M766.60,362.2v-3.2M766.60,42.0v3.2M772.89,362.2v-3.2M772.89,42.0v3.2M779.18,362.2v-3.2M779.18,42.0v3.2M785.47,362.2v-3.2M785.47,42.0v3.2M791.76,362.2v-3.2M791.76,42.0v3.2M798.04,362.2v-3.2M798.04,42.0v3.2M804.33,362.2v-3.2M804.33,42.0v3.2M810.62,362.2v-6.3M810.62,42.0v6.3M816.91,362.2v-3.2M816.91,42.0v3.2M823.20,362.2v-3.2M823.20,42.0v3.2M829.48,362.2v-3.2M829.48,42.0v3.2M835.77,362.2v-3.2M835.77,42.0v3.2M842.06,362.2v-3.2M842.06,42.0v3.2M848.35,362.2v-3.2M848.35,42.0v3.2M854.64,362.2v-3.2M854.64,42.0v3.2M860.92,362.2v-3.2M860.92,42.0v3.2M867.21,362.2v-3.2M867.21,42.0v3.2M873.50,362.2v-6.3M873.50,42.0v6.3M559.1,362.20h6.3M873.5,362.20h-6.3M559.1,346.95h3.2M873.5,346.95h-3.2M559.1,331.70h3.2M873.5,331.70h-3.2M559.1,316.46h3.2M873.5,316.46h-3.2M559.1,301.21h6.3M873.5,301.21h-6.3M559.1,285.96h3.2M873.5,285.96h-3.2M559.1,270.71h3.2M873.5,270.71h-3.2M559.1,255.47h3.2M873.5,255.47h-3.2M559.1,240.22h6.3M873.5,240.22h-6.3M559.1,224.97h3.2M873.5,224.97h-3.2M559.1,209.72h3.2M873.5,209.72h-3.2M559.1,194.48h3.2M873.5,194.48h-3.2M559.1,179.23h6.3M873.5,179.23h-6.3M559.1,163.98h3.2M873.5,163.98h-3.2M559.1,148.73h3.2M873.5,148.73h-3.2M559.1,133.49h3.2M873.5,133.49h-3.2M559.1,118.24h6.3M873.5,118.24h-6.3M559.1,102.99h3.2M873.5,102.99h-3.2M559.1,87.74h3.2M873.5,87.74h-3.2M559.1,72.50h3.2M873.5,72.50h-3.2M559.1,57.25h6.3M873.5,57.25h-6.3M559.1,42.00h3.2M873.5,42.00h-3.2" stroke="#000" stroke-width="1.7" fill="none"/>
<path d="M197.45,409.06 L197.45,422.50M205.99,422.50 L204.57,421.86 L203.14,420.58 L202.43,418.66 L202.43,417.38 L203.14,415.46 L204.57,414.18 L205.99,413.54 L208.13,413.54 L209.55,414.18 L210.98,415.46 L211.69,417.38 L211.69,418.66 L210.98,420.58 L209.55,421.86 L208.13,422.50 L205.99,422.50M224.50,420.58 L223.08,421.86 L221.66,422.50 L219.52,422.50 L218.10,421.86 L216.67,420.58 L215.96,418.66 L215.96,417.38 L216.67,415.46 L218.10,414.18 L219.52,413.54 L221.66,413.54 L223.08,414.18 L224.50,415.46M224.50,413.54 L224.50,424.36 L223.79,427.14 L223.08,428.07 L221.66,429.00 L219.52,429.00 L218.10,428.07M252.98,422.50 L252.98,409.06 L247.29,422.50 L241.59,409.06 L241.59,422.50M262.13,424.19 L263.47,424.55 L263.91,424.91 L264.36,425.63 L264.36,426.71 L263.91,427.43 L263.47,427.79 L262.13,428.15 L258.12,428.15 L258.12,420.59 L262.13,420.59 L263.47,420.95 L263.91,421.31 L264.36,422.03 L264.36,422.75 L263.91,423.47 L263.47,423.83 L262.13,424.19 L258.12,424.19M267.48,420.59 L267.48,428.15M273.73,420.59 L273.73,428.15M267.48,424.19 L273.73,424.19M294.62,428.77 L290.35,428.77 L290.35,405.22 L294.62,405.22M311.71,422.50 L311.71,409.06 L306.01,422.50 L300.32,409.06 L300.32,422.50M328.81,405.22 L333.12,405.22 L333.12,428.77 L328.81,428.77M651.95,409.06 L651.95,422.50M660.49,422.50 L659.07,421.86 L657.64,420.58 L656.93,418.66 L656.93,417.38 L657.64,415.46 L659.07,414.18 L660.49,413.54 L662.63,413.54 L664.05,414.18 L665.48,415.46 L666.19,417.38 L666.19,418.66 L665.48,420.58 L664.05,421.86 L662.63,422.50 L660.49,422.50M679.00,420.58 L677.58,421.86 L676.16,422.50 L674.02,422.50 L672.60,421.86 L671.17,420.58 L670.46,418.66 L670.46,417.38 L671.17,415.46 L672.60,414.18 L674.02,413.54 L676.16,413.54 L677.58,414.18 L679.00,415.46M679.00,413.54 L679.00,424.36 L678.29,427.14 L677.58,428.07 L676.16,429.00 L674.02,429.00 L672.60,428.07M696.09,409.06 L696.09,422.50 L703.43,422.50M707.63,420.59 L707.63,428.15M707.63,424.19 L708.52,423.47 L709.42,423.11 L710.75,423.11 L711.65,423.47 L712.54,424.19 L712.98,425.27 L712.98,425.99 L712.54,427.07 L711.65,427.79 L710.75,428.15 L709.42,428.15 L708.52,427.79 L707.63,427.07M717.89,428.15 L717.00,427.79 L716.11,427.07 L715.66,425.99 L715.66,425.27 L716.11,424.19 L717.00,423.47 L717.89,423.11 L719.23,423.11 L720.12,423.47 L721.01,424.19 L721.46,425.27 L721.46,425.99 L721.01,427.07 L720.12,427.79 L719.23,428.15 L717.89,428.15M724.58,420.59 L724.58,428.15M745.48,428.77 L741.20,428.77 L741.20,405.22 L745.48,405.22M751.17,409.06 L751.17,422.50 L758.51,422.50M775.08,405.22 L779.39,405.22 L779.39,428.77 L775.08,428.77M20.56,380.33 L34.00,380.33M34.00,371.71 L33.36,373.15 L32.08,374.58 L30.16,375.30 L28.88,375.30 L26.96,374.58 L25.68,373.15 L25.04,371.71 L25.04,369.56 L25.68,368.12 L26.96,366.69 L28.88,365.97 L30.16,365.97 L32.08,366.69 L33.36,368.12 L34.00,369.56 L34.00,371.71M32.08,353.04 L33.36,354.48 L34.00,355.92 L34.00,358.07 L33.36,359.51 L32.08,360.94 L30.16,361.66 L28.88,361.66 L26.96,360.94 L25.68,359.51 L25.04,358.07 L25.04,355.92 L25.68,354.48 L26.96,353.04M25.04,353.04 L35.86,353.04 L38.64,353.76 L39.57,354.48 L40.50,355.92 L40.50,358.07 L39.57,359.51M20.56,327.91 L34.00,327.91M32.08,327.91 L33.36,329.35 L34.00,330.79 L34.00,332.94 L33.36,334.38 L32.08,335.81 L30.16,336.53 L28.88,336.53 L26.96,335.81 L25.68,334.38 L25.04,332.94 L25.04,330.79 L25.68,329.35 L26.96,327.91M20.56,312.12 L34.00,312.12 L20.56,322.17 L34.00,322.17M16.72,294.89 L40.27,307.81M16.72,285.55 L18.19,286.99 L20.40,288.42 L23.34,289.86 L27.02,290.58 L29.97,290.58 L33.65,289.86 L36.59,288.42 L38.80,286.99 L40.27,285.55M20.56,272.63 L34.00,272.63M32.08,272.63 L33.36,274.06 L34.00,275.50 L34.00,277.65 L33.36,279.09 L32.08,280.53 L30.16,281.24 L28.88,281.24 L26.96,280.53 L25.68,279.09 L25.04,277.65 L25.04,275.50 L25.68,274.06 L26.96,272.63M20.56,266.88 L34.00,266.88M34.00,258.27 L33.36,259.70 L32.08,261.14 L30.16,261.86 L28.88,261.86 L26.96,261.14 L25.68,259.70 L25.04,258.27 L25.04,256.11 L25.68,254.68 L26.96,253.24 L28.88,252.52 L30.16,252.52 L32.08,253.24 L33.36,254.68 L34.00,256.11 L34.00,258.27M32.08,239.60 L33.36,241.04 L34.00,242.47 L34.00,244.63 L33.36,246.06 L32.08,247.50 L30.16,248.22 L28.88,248.22 L26.96,247.50 L25.68,246.06 L25.04,244.63 L25.04,242.47 L25.68,241.04 L26.96,239.60M25.04,239.60 L35.86,239.60 L38.64,240.32 L39.57,241.04 L40.50,242.47 L40.50,244.63 L39.57,246.06M34.00,210.88 L20.56,210.88 L34.00,216.62 L20.56,222.37 L34.00,222.37M35.69,202.21 L36.05,200.87 L36.41,200.43 L37.13,199.98 L38.21,199.98 L38.93,200.43 L39.29,200.87 L39.65,202.21 L39.65,206.22 L32.09,206.22 L32.09,202.21 L32.45,200.87 L32.81,200.43 L33.53,199.98 L34.25,199.98 L34.97,200.43 L35.33,200.87 L35.69,202.21 L35.69,206.22M32.09,196.86 L39.65,196.86M32.09,190.61 L39.65,190.61M35.69,196.86 L35.69,190.61M16.72,186.68 L18.19,185.24 L20.40,183.80 L23.34,182.37 L27.02,181.65 L29.97,181.65 L33.65,182.37 L36.59,183.80 L38.80,185.24 L40.27,186.68M40.27,160.11 L40.27,164.42 L16.72,164.42 L16.72,160.11M34.00,142.88 L20.56,142.88 L34.00,148.62 L20.56,154.37 L34.00,154.37M25.04,137.13 L40.50,137.13M26.96,137.13 L25.68,135.70 L25.04,134.26 L25.04,132.11 L25.68,130.67 L26.96,129.24 L28.88,128.52 L30.16,128.52 L32.08,129.24 L33.36,130.67 L34.00,132.11 L34.00,134.26 L33.36,135.70 L32.08,137.13M32.08,115.59 L33.36,117.03 L34.00,118.47 L34.00,120.62 L33.36,122.06 L32.08,123.49 L30.16,124.21 L28.88,124.21 L26.96,123.49 L25.68,122.06 L25.04,120.62 L25.04,118.47 L25.68,117.03 L26.96,115.59M21.68,111.44 L21.68,108.64M17.66,105.44 L17.66,101.04 L20.34,103.44 L20.34,102.24 L20.68,101.44 L21.02,101.04 L22.02,100.64 L22.69,100.64 L23.70,101.04 L24.36,101.84 L24.70,103.04 L24.70,104.24 L24.36,105.44 L24.03,105.84 L23.36,106.24M20.56,77.18 L34.00,77.18M32.08,77.18 L33.36,78.62 L34.00,80.05 L34.00,82.21 L33.36,83.64 L32.08,85.08 L30.16,85.80 L28.88,85.80 L26.96,85.08 L25.68,83.64 L25.04,82.21 L25.04,80.05 L25.68,78.62 L26.96,77.18M28.88,72.16 L26.96,71.44 L25.68,70.00 L25.04,68.57 L25.04,66.41 L25.68,64.98 L26.32,64.26 L27.60,63.54 L28.88,63.54 L28.88,72.16 L30.16,72.16 L32.08,71.44 L33.36,70.00 L34.00,68.57 L34.00,66.41 L33.36,64.98 L32.08,63.54M25.04,59.23 L34.00,51.33M25.04,51.33 L34.00,59.23M21.68,46.58 L21.68,43.78M24.70,37.18 L17.66,37.18 L18.67,38.38 L19.00,39.18M16.72,31.03 L16.72,26.72 L40.27,26.72 L40.27,31.03M470.66,368.13 L484.10,368.13M484.10,359.51 L483.46,360.95 L482.18,362.38 L480.26,363.10 L478.98,363.10 L477.06,362.38 L475.78,360.95 L475.14,359.51 L475.14,357.36 L475.78,355.92 L477.06,354.49 L478.98,353.77 L480.26,353.77 L482.18,354.49 L483.46,355.92 L484.10,357.36 L484.10,359.51M482.18,340.84 L483.46,342.28 L484.10,343.72 L484.10,345.87 L483.46,347.31 L482.18,348.74 L480.26,349.46 L478.98,349.46 L477.06,348.74 L475.78,347.31 L475.14,345.87 L475.14,343.72 L475.78,342.28 L477.06,340.84M475.14,340.84 L485.96,340.84 L488.74,341.56 L489.67,342.28 L490.60,343.72 L490.60,345.87 L489.67,347.31M470.66,315.71 L484.10,315.71M482.18,315.71 L483.46,317.15 L484.10,318.59 L484.10,320.74 L483.46,322.18 L482.18,323.61 L480.26,324.33 L478.98,324.33 L477.06,323.61 L475.78,322.18 L475.14,320.74 L475.14,318.59 L475.78,317.15 L477.06,315.71M470.66,299.92 L484.10,299.92 L470.66,309.97 L484.10,309.97M466.82,282.69 L490.37,295.61M466.82,273.35 L468.29,274.79 L470.50,276.22 L473.44,277.66 L477.12,278.38 L480.07,278.38 L483.75,277.66 L486.69,276.22 L488.90,274.79 L490.37,273.35M470.66,260.43 L484.10,260.43M482.18,260.43 L483.46,261.86 L484.10,263.30 L484.10,265.45 L483.46,266.89 L482.18,268.33 L480.26,269.04 L478.98,269.04 L477.06,268.33 L475.78,266.89 L475.14,265.45 L475.14,263.30 L475.78,261.86 L477.06,260.43M470.66,254.68 L484.10,254.68M484.10,246.07 L483.46,247.50 L482.18,248.94 L480.26,249.66 L478.98,249.66 L477.06,248.94 L475.78,247.50 L475.14,246.07 L475.14,243.91 L475.78,242.48 L477.06,241.04 L478.98,240.32 L480.26,240.32 L482.18,241.04 L483.46,242.48 L484.10,243.91 L484.10,246.07M482.18,227.40 L483.46,228.84 L484.10,230.27 L484.10,232.43 L483.46,233.86 L482.18,235.30 L480.26,236.02 L478.98,236.02 L477.06,235.30 L475.78,233.86 L475.14,232.43 L475.14,230.27 L475.78,228.84 L477.06,227.40M475.14,227.40 L485.96,227.40 L488.74,228.12 L489.67,228.84 L490.60,230.27 L490.60,232.43 L489.67,233.86M470.66,210.17 L484.10,210.17 L484.10,202.77M466.82,198.68 L468.29,197.24 L470.50,195.81 L473.44,194.37 L477.12,193.65 L480.07,193.65 L483.75,194.37 L486.69,195.81 L488.90,197.24 L490.37,198.68M490.37,172.11 L490.37,176.42 L466.82,176.42 L466.82,172.11M484.10,154.88 L470.66,154.88 L484.10,160.63 L470.66,166.37 L484.10,166.37M475.14,149.14 L490.60,149.14M477.06,149.14 L475.78,147.70 L475.14,146.27 L475.14,144.11 L475.78,142.68 L477.06,141.24 L478.98,140.52 L480.26,140.52 L482.18,141.24 L483.46,142.68 L484.10,144.11 L484.10,146.27 L483.46,147.70 L482.18,149.14M482.18,127.60 L483.46,129.03 L484.10,130.47 L484.10,132.62 L483.46,134.06 L482.18,135.50 L480.26,136.21 L478.98,136.21 L477.06,135.50 L475.78,134.06 L475.14,132.62 L475.14,130.47 L475.78,129.03 L477.06,127.60M471.79,123.44 L471.79,120.64M467.77,117.44 L467.77,113.04 L470.45,115.44 L470.45,114.24 L470.78,113.44 L471.12,113.04 L472.12,112.64 L472.79,112.64 L473.80,113.04 L474.47,113.84 L474.80,115.04 L474.80,116.24 L474.47,117.44 L474.13,117.84 L473.46,118.24M470.66,89.19 L484.10,89.19M482.18,89.19 L483.46,90.62 L484.10,92.06 L484.10,94.21 L483.46,95.65 L482.18,97.08 L480.26,97.80 L478.98,97.80 L477.06,97.08 L475.78,95.65 L475.14,94.21 L475.14,92.06 L475.78,90.62 L477.06,89.19M478.98,84.16 L477.06,83.44 L475.78,82.01 L475.14,80.57 L475.14,78.42 L475.78,76.98 L476.42,76.26 L477.70,75.54 L478.98,75.54 L478.98,84.16 L480.26,84.16 L482.18,83.44 L483.46,82.01 L484.10,80.57 L484.10,78.42 L483.46,76.98 L482.18,75.54M475.14,71.24 L484.10,63.34M475.14,63.34 L484.10,71.24M471.79,58.58 L471.79,55.78M474.80,49.18 L467.77,49.18 L468.77,50.38 L469.11,51.18M466.82,43.03 L466.82,38.72 L490.37,38.72 L490.37,43.03M72.90,59.57 L83.92,59.57M90.54,54.77 L90.54,54.09 L91.27,52.71 L92.01,52.03 L93.48,51.34 L96.42,51.34 L97.89,52.03 L98.62,52.71 L99.36,54.09 L99.36,55.46 L98.62,56.83 L97.16,58.89 L89.80,65.75 L100.09,65.75M523.00,59.57 L534.02,59.57M540.64,54.77 L540.64,54.09 L541.38,52.71 L542.11,52.03 L543.58,51.34 L546.52,51.34 L547.99,52.03 L548.72,52.71 L549.46,54.09 L549.46,55.46 L548.72,56.83 L547.25,58.89 L539.90,65.75 L550.19,65.75M72.90,120.56 L83.92,120.56M97.16,126.74 L97.16,112.33 L89.80,121.94 L100.83,121.94M523.00,120.56 L534.02,120.56M547.25,126.74 L547.25,112.33 L539.90,121.94 L550.93,121.94M72.90,181.55 L83.92,181.55M90.54,182.93 L91.27,185.67 L92.74,187.04 L94.95,187.73 L95.69,187.73 L97.89,187.04 L99.36,185.67 L100.09,183.61 L100.09,182.93 L99.36,180.87 L97.89,179.50 L95.69,178.81 L94.95,178.81 L92.74,179.50 L91.27,180.87 L90.54,182.93 L90.54,179.50 L91.27,176.07 L92.74,174.01 L94.95,173.32 L96.42,173.32 L98.62,174.01 L99.36,175.38M523.00,181.55 L534.02,181.55M540.64,182.93 L541.38,185.67 L542.84,187.04 L545.05,187.73 L545.78,187.73 L547.99,187.04 L549.46,185.67 L550.19,183.61 L550.19,182.93 L549.46,180.87 L547.99,179.50 L545.78,178.81 L545.05,178.81 L542.84,179.50 L541.38,180.87 L540.64,182.93 L540.64,179.50 L541.38,176.07 L542.84,174.01 L545.05,173.32 L546.52,173.32 L548.72,174.01 L549.46,175.38M72.90,242.55 L83.92,242.55M96.42,248.72 L98.62,248.03 L99.36,247.35 L100.09,245.98 L100.09,243.92 L99.36,242.55 L97.89,241.17 L95.69,240.49 L92.74,239.80 L91.27,239.12 L90.54,237.74 L90.54,236.37 L91.27,235.00 L93.48,234.31 L96.42,234.31 L98.62,235.00 L99.36,236.37 L99.36,237.74 L98.62,239.12 L97.16,239.80 L94.22,240.49 L92.01,241.17 L90.54,242.55 L89.80,243.92 L89.80,245.98 L90.54,247.35 L91.27,248.03 L93.48,248.72 L96.42,248.72M523.00,242.55 L534.02,242.55M546.52,248.72 L548.72,248.03 L549.46,247.35 L550.19,245.98 L550.19,243.92 L549.46,242.55 L547.99,241.17 L545.78,240.49 L542.84,239.80 L541.38,239.12 L540.64,237.74 L540.64,236.37 L541.38,235.00 L543.58,234.31 L546.52,234.31 L548.72,235.00 L549.46,236.37 L549.46,237.74 L548.72,239.12 L547.25,239.80 L544.31,240.49 L542.11,241.17 L540.64,242.55 L539.90,243.92 L539.90,245.98 L540.64,247.35 L541.38,248.03 L543.58,248.72 L546.52,248.72M58.20,303.54 L69.22,303.54M80.98,309.71 L80.98,295.30 L78.78,297.36 L77.31,298.05M94.22,309.71 L92.01,309.02 L90.54,306.97 L89.80,303.54 L89.80,301.48 L90.54,298.05 L92.01,295.99 L94.22,295.30 L95.69,295.30 L97.89,295.99 L99.36,298.05 L100.09,301.48 L100.09,303.54 L99.36,306.97 L97.89,309.02 L95.69,309.71 L94.22,309.71M508.30,303.54 L519.32,303.54M531.08,309.71 L531.08,295.30 L528.88,297.36 L527.41,298.05M544.31,309.71 L542.11,309.02 L540.64,306.97 L539.90,303.54 L539.90,301.48 L540.64,298.05 L542.11,295.99 L544.31,295.30 L545.78,295.30 L547.99,295.99 L549.46,298.05 L550.19,301.48 L550.19,303.54 L549.46,306.97 L547.99,309.02 L545.78,309.71 L544.31,309.71M58.20,356.33 L69.22,356.33M80.98,362.50 L80.98,348.09 L78.78,350.15 L77.31,350.84M90.54,351.52 L90.54,350.84 L91.27,349.47 L92.01,348.78 L93.48,348.09 L96.42,348.09 L97.89,348.78 L98.62,349.47 L99.36,350.84 L99.36,352.21 L98.62,353.58 L97.16,355.64 L89.80,362.50 L100.09,362.50M508.30,356.33 L519.32,356.33M531.08,362.50 L531.08,348.09 L528.88,350.15 L527.41,350.84M540.64,351.52 L540.64,350.84 L541.38,349.47 L542.11,348.78 L543.58,348.09 L546.52,348.09 L547.99,348.78 L548.72,349.47 L549.46,350.84 L549.46,352.21 L548.72,353.58 L547.25,355.64 L539.90,362.50 L550.19,362.50M103.99,389.30 L104.73,392.04 L106.20,393.41 L108.40,394.10 L109.14,394.10 L111.34,393.41 L112.81,392.04 L113.55,389.98 L113.55,389.30 L112.81,387.24 L111.34,385.87 L109.14,385.18 L108.40,385.18 L106.20,385.87 L104.73,387.24 L103.99,389.30 L103.99,385.87 L104.73,382.44 L106.20,380.38 L108.40,379.69 L109.87,379.69 L112.08,380.38 L112.81,381.75M173.04,379.69 L183.33,379.69 L175.98,394.10M249.45,394.10 L251.65,393.41 L252.39,392.73 L253.12,391.36 L253.12,389.30 L252.39,387.93 L250.92,386.55 L248.71,385.87 L245.77,385.18 L244.30,384.50 L243.57,383.12 L243.57,381.75 L244.30,380.38 L246.51,379.69 L249.45,379.69 L251.65,380.38 L252.39,381.75 L252.39,383.12 L251.65,384.50 L250.18,385.18 L247.24,385.87 L245.04,386.55 L243.57,387.93 L242.83,389.30 L242.83,391.36 L243.57,392.73 L244.30,393.41 L246.51,394.10 L249.45,394.10M317.03,388.61 L314.83,387.93 L313.36,386.55 L312.62,384.50 L312.62,383.81 L313.36,381.75 L314.83,380.38 L317.03,379.69 L317.77,379.69 L319.97,380.38 L321.44,381.75 L322.18,384.50 L321.44,386.55 L319.97,387.93 L317.77,388.61 L317.03,388.61M322.18,384.50 L322.18,387.93 L321.44,391.36 L319.97,393.41 L317.77,394.10 L316.30,394.10 L314.09,393.41 L313.36,392.04M380.94,394.10 L380.94,379.69 L378.74,381.75 L377.27,382.44M394.17,394.10 L391.97,393.41 L390.50,391.36 L389.76,387.93 L389.76,385.87 L390.50,382.44 L391.97,380.38 L394.17,379.69 L395.64,379.69 L397.85,380.38 L399.32,382.44 L400.05,385.87 L400.05,387.93 L399.32,391.36 L397.85,393.41 L395.64,394.10 L394.17,394.10M552.49,394.10 L552.49,379.69 L550.28,381.75 L548.81,382.44M565.71,394.10 L563.51,393.41 L562.04,391.36 L561.30,387.93 L561.30,385.87 L562.04,382.44 L563.51,380.38 L565.71,379.69 L567.18,379.69 L569.39,380.38 L570.86,382.44 L571.60,385.87 L571.60,387.93 L570.86,391.36 L569.39,393.41 L567.18,394.10 L565.71,394.10M615.37,394.10 L615.37,379.69 L613.16,381.75 L611.69,382.44M630.06,394.10 L630.06,379.69 L627.86,381.75 L626.39,382.44M678.25,394.10 L678.25,379.69 L676.04,381.75 L674.57,382.44M687.80,383.12 L687.80,382.44 L688.53,381.07 L689.27,380.38 L690.74,379.69 L693.68,379.69 L695.15,380.38 L695.88,381.07 L696.62,382.44 L696.62,383.81 L695.88,385.18 L694.41,387.24 L687.06,394.10 L697.36,394.10M741.12,394.10 L741.12,379.69 L738.92,381.75 L737.45,382.44M751.41,379.69 L759.50,379.69 L755.09,385.18 L757.29,385.18 L758.76,385.87 L759.50,386.55 L760.24,388.61 L760.24,389.98 L759.50,392.04 L758.03,393.41 L755.82,394.10 L753.62,394.10 L751.41,393.41 L750.68,392.73 L749.94,391.36M804.00,394.10 L804.00,379.69 L801.80,381.75 L800.33,382.44M820.17,394.10 L820.17,379.69 L812.82,389.30 L823.85,389.30M866.88,394.10 L866.88,379.69 L864.68,381.75 L863.21,382.44M875.70,391.36 L876.44,392.73 L877.17,393.41 L879.38,394.10 L881.58,394.10 L883.79,393.41 L885.26,392.04 L886.00,389.98 L886.00,388.61 L885.26,386.55 L883.79,385.18 L881.58,384.50 L879.38,384.50 L877.17,385.18 L876.44,385.87 L877.17,379.69 L884.52,379.69" fill="none" stroke="#000" stroke-width="1.75" stroke-linecap="round" stroke-linejoin="round"/>
<circle cx="321.06" cy="423.80" r="4.6" fill="none" stroke="#000" stroke-width="1.75"/><circle cx="321.06" cy="423.80" r="1.5" fill="#000"/><circle cx="767.23" cy="423.80" r="4.6" fill="none" stroke="#000" stroke-width="1.75"/><circle cx="767.23" cy="423.80" r="1.5" fill="#000"/>
</svg>
</body></html>
